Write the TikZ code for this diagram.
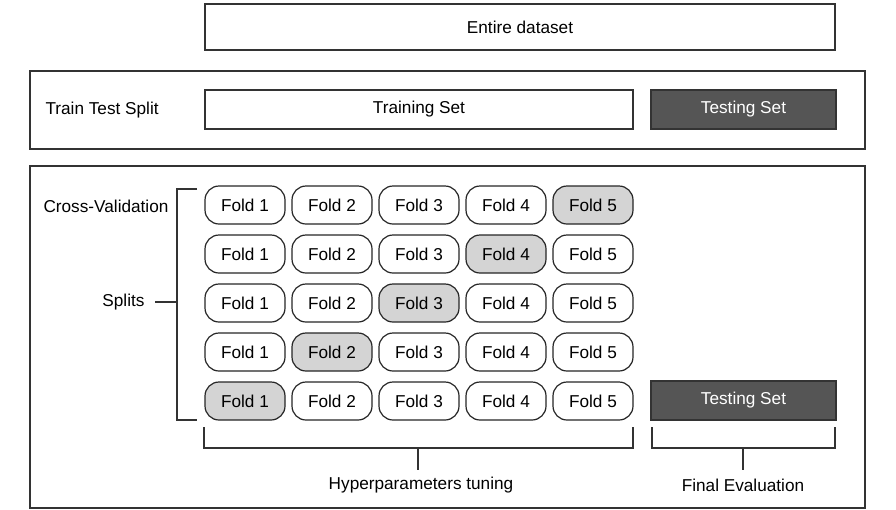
\documentclass[tikz,border=0pt]{standalone}
\usepackage{fontspec}
\setmainfont{Liberation Sans}
\usetikzlibrary{positioning}
\definecolor{darkset}{RGB}{85,85,85}
\definecolor{heldout}{RGB}{212,212,212}
\begin{document}
\begin{tikzpicture}[x=1pt, y=-1pt, every node/.style={font=\fontsize{17.2}{20}\selectfont}]
				\tikzstyle{framenode}=[draw=black!80, line width=1.2pt, fill=none, inner sep=0pt]
				\tikzstyle{setnode}=[draw=black!80, line width=1.2pt, minimum height=39pt, inner sep=0pt, fill=white, text=black]
				\tikzstyle{testnode}=[setnode, fill=darkset, text=white, minimum width=185pt]
				\tikzstyle{foldnode}=[draw=black!85, line width=1.2pt, rounded corners=14pt, minimum height=38pt, minimum width=80pt, inner sep=0pt, fill=white]
				\tikzstyle{bracket}=[draw=black!80, line width=1.2pt]
				
				\useasboundingbox (0,0) rectangle (896,509);
				
				\node (full) at (520,27) [setnode, minimum width=630pt, minimum height=46pt] {Entire dataset};
				
				\node (split) at (447.5,110) [framenode, minimum width=835pt, minimum height=78pt] {};
				\node (splitL) at (42,110) [anchor=west] {Train Test Split};
				\node (train) at (419,109.5) [setnode, minimum width=428pt] {Training Set};
				\node (test) at (743.5,109.5) [testnode] {Testing Set};
				
				\node (cv) at (447.5,337) [framenode, minimum width=835pt, minimum height=342pt] {};
				\node (cvL) at (40,206) [anchor=west] {Cross-Validation};
				\node (splitsL) at (148,302) [anchor=east] {Splits};
				
				\foreach \r in {1,...,5} {
					\foreach \c in {1,...,5} {
						\pgfmathtruncatemacro{\held}{\c==6-\r}
						\ifnum\held=1
							\node (f\r\c) at ({245+87*(\c-1)},{205+49*(\r-1)}) [foldnode, fill=heldout] {Fold \c};
						\else
							\node (f\r\c) at ({245+87*(\c-1)},{205+49*(\r-1)}) [foldnode] {Fold \c};
						\fi
					}
				}
				
				\node (test2) at (743.5,400.5) [testnode] {Testing Set};
				
				% splits bracket
				\coordinate (sT) at (197,189);
				\coordinate (sB) at (197,420);
				\draw [bracket] (sT) -| (177,420) -- (sB);
				\draw [bracket] (splitsL.east) ++(7pt,0) -- (177,302);
				
				% bottom brackets
				\node (hyper) at (421,485) {Hyperparameters tuning};
				\node (final) at (743,485) {Final Evaluation};
				\draw [bracket] (204,427) |- (633,448) -- (633,427);
				\draw [bracket] (418,448) -- (418,470);
				\draw [bracket] (652,427) |- (835,448) -- (835,427);
				\draw [bracket] (743,448) -- (743,470);
				
				\end{tikzpicture}
\end{document}
